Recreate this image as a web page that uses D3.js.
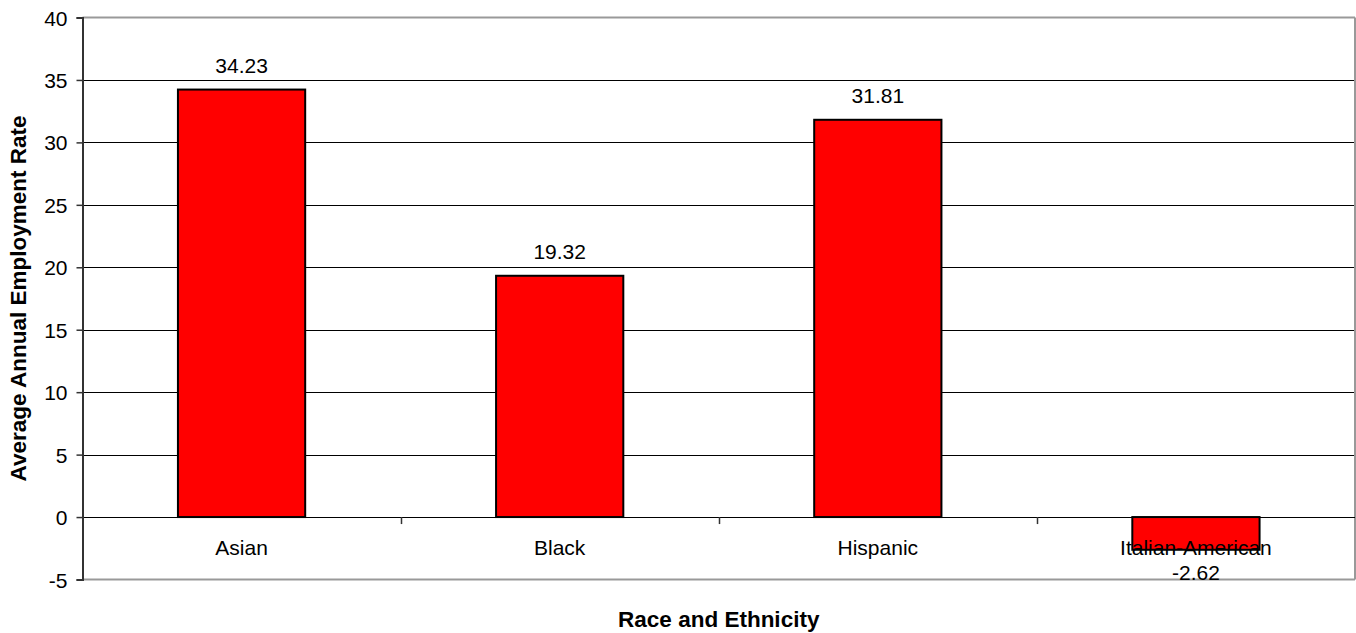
<!DOCTYPE html>
<html>
<head>
<meta charset="utf-8">
<script src="https://cdn.jsdelivr.net/npm/d3@7"></script>
<style>
  html, body { margin: 0; padding: 0; background: #fff; }
  svg { display: block; }
  text { font-family: "Liberation Sans", Arial, sans-serif; fill: #000; }
</style>
</head>
<body>
<svg id="chart" width="1356" height="633"></svg>
<script>
const categories = ["Asian", "Black", "Hispanic", "Italian-American"];
const values = [34.23, 19.32, 31.81, -2.62];
const valueLabels = ["34.23", "19.32", "31.81", "-2.62"];
const yTicks = [-5, 0, 5, 10, 15, 20, 25, 30, 35, 40];
const xTitle = "Race and Ethnicity";
const yTitle = "Average Annual Employment Rate";

const W = 1356, H = 633;
const m = { left: 82.5, right: 1355, top: 17.5, bottom: 579.5 };
const svg = d3.select("#chart");

const x = d3.scaleBand().domain(categories).range([m.left, m.right]).paddingInner(0).paddingOuter(0);
const y = d3.scaleLinear().domain([-5, 40]).range([m.bottom, m.top]);

// gridlines
svg.append("g").selectAll("line").data(yTicks.filter(t => t > -5 && t < 40)).join("line")
  .attr("x1", m.left).attr("x2", m.right)
  .attr("y1", d => Math.round(y(d)) + 0.5).attr("y2", d => Math.round(y(d)) + 0.5)
  .attr("stroke", "#000").attr("stroke-width", 1);

// plot border (gray)
svg.append("line").attr("x1", m.left).attr("x2", m.right).attr("y1", m.top).attr("y2", m.top)
  .attr("stroke", "#999").attr("stroke-width", 2);
svg.append("line").attr("x1", m.right).attr("x2", m.right).attr("y1", m.top).attr("y2", m.bottom)
  .attr("stroke", "#999").attr("stroke-width", 2);
svg.append("line").attr("x1", m.left).attr("x2", m.right).attr("y1", m.bottom).attr("y2", m.bottom)
  .attr("stroke", "#999").attr("stroke-width", 2);

// bars
const bw = x.bandwidth() * 0.4;
svg.append("g").selectAll("rect").data(values).join("rect")
  .attr("x", (d, i) => x(categories[i]) + x.bandwidth() / 2 - bw / 2)
  .attr("y", d => y(Math.max(0, d)))
  .attr("width", bw)
  .attr("height", d => Math.abs(y(d) - y(0)))
  .attr("fill", "#ff0000").attr("stroke", "#000").attr("stroke-width", 2);

// zero axis line
svg.append("line").attr("x1", m.left).attr("x2", m.right)
  .attr("y1", Math.round(y(0)) + 0.5).attr("y2", Math.round(y(0)) + 0.5)
  .attr("stroke", "#000").attr("stroke-width", 1);

// category ticks at band boundaries
svg.append("g").selectAll("line").data(categories.slice(1)).join("line")
  .attr("x1", d => Math.round(x(d)) + 0.5).attr("x2", d => Math.round(x(d)) + 0.5)
  .attr("y1", y(0)).attr("y2", y(0) + 7)
  .attr("stroke", "#333").attr("stroke-width", 1.5);

// y axis
const yAxis = d3.axisLeft(y).tickValues(yTicks).tickSize(6).tickPadding(9).tickFormat(d => String(d));
const gy = svg.append("g").attr("transform", `translate(${m.left},0)`).call(yAxis);
gy.select(".domain").attr("stroke", "#333").attr("stroke-width", 2);
gy.selectAll(".tick line").attr("stroke", "#333").attr("stroke-width", 1.5);
gy.selectAll(".tick text").attr("font-size", "21px").attr("font-family", "Liberation Sans, Arial, sans-serif")
  .attr("fill", "#000").attr("dy", "0.36em");

// category labels
svg.append("g").selectAll("text").data(categories).join("text")
  .attr("x", d => x(d) + x.bandwidth() / 2)
  .attr("y", y(0) + 38)
  .attr("text-anchor", "middle").attr("font-size", "21px")
  .text(d => d);

// value labels
svg.append("g").selectAll("text").data(values).join("text")
  .attr("x", (d, i) => x(categories[i]) + x.bandwidth() / 2)
  .attr("y", d => d >= 0 ? y(d) - 17 : y(d) + 30)
  .attr("text-anchor", "middle").attr("font-size", "21px")
  .text((d, i) => valueLabels[i]);

// axis titles
svg.append("text").attr("x", (m.left + m.right) / 2).attr("y", 627)
  .attr("text-anchor", "middle").attr("font-size", "22.5px").attr("font-weight", "bold")
  .text(xTitle);
svg.append("text").attr("transform", `translate(26,${(m.top + m.bottom) / 2}) rotate(-90)`)
  .attr("text-anchor", "middle").attr("font-size", "22.5px").attr("font-weight", "bold")
  .text(yTitle);
</script>
</body>
</html>
